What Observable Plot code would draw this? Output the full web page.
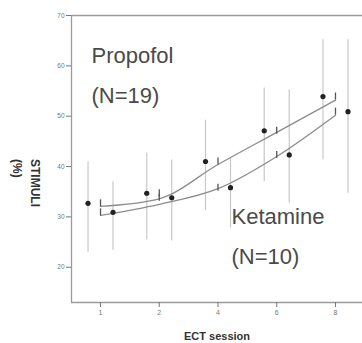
<!DOCTYPE html>
<html>
<head>
<meta charset="utf-8">
<script src="https://cdn.jsdelivr.net/npm/d3@7"></script>
<script src="https://cdn.jsdelivr.net/npm/@observablehq/plot@0.6"></script>
<style>
  html, body { margin: 0; padding: 0; background: #fff; }
  #chart svg { display: block; }
</style>
</head>
<body>
<div id="chart"></div>
<script>
// ECT sessions (labels) and their evenly spaced positions
const sessionLabels = ["1", "2", "4", "6", "8"];
const sessionPos = [1, 2, 3, 4, 5];
const yTicks = [20, 30, 40, 50, 60, 70];

// Propofol (N=19): mean, error-bar low/high, fitted curve
const propMean = [32.7, 34.7, 41.0, 47.1, 53.9];
const propLow  = [23.0, 25.4, 31.3, 37.0, 41.3];
const propHigh = [40.9, 42.7, 49.2, 55.6, 65.2];
const propFit  = [32.1, 33.6, 40.4, 46.8, 53.2];

// Ketamine (N=10)
const ketMean = [30.9, 33.8, 35.8, 42.3, 50.9];
const ketLow  = [23.4, 25.2, 27.8, 32.7, 34.7];
const ketHigh = [37.0, 41.3, 41.7, 55.2, 65.2];
const ketFit  = [30.3, 32.5, 35.6, 42.0, 50.2];

const groups = [
  {name: "Propofol", mean: propMean, low: propLow, high: propHigh, fit: propFit, dx: -12.5},
  {name: "Ketamine", mean: ketMean, low: ketLow, high: ketHigh, fit: ketFit, dx: 12.5}
];

const rows = g => sessionPos.map((p, i) => ({x: p, mean: g.mean[i], low: g.low[i], high: g.high[i], fit: g.fit[i]}));

const xDomain = [0.506, 5.46];
const yDomain = [13, 70];
const font = "'Liberation Sans', Arial, sans-serif";

const marks = [];
for (const g of groups) {
  const d = rows(g);
  marks.push(Plot.ruleX(d, {x: "x", y1: "low", y2: "high", dx: g.dx, stroke: "#c8c8c8", strokeWidth: 1.2}));
}
for (const g of groups) {
  const d = rows(g);
  marks.push(Plot.line(d, {x: "x", y: "fit", curve: "monotone-x", stroke: "#8c8c8c", strokeWidth: 1.3}));
  marks.push(Plot.ruleX(d, {x: "x", y1: r => r.mean - 0.7, y2: r => r.mean + 0.7, stroke: "#555", strokeWidth: 1.3}));
  marks.push(Plot.dot(d, {x: "x", y: "mean", dx: g.dx, r: 2.6, fill: "#222", stroke: "none"}));
}

const chart = Plot.plot({
  width: 362,
  height: 343,
  marginTop: 15,
  marginBottom: 41,
  marginLeft: 71,
  marginRight: 0,
  style: {fontFamily: font, background: "#fff"},
  x: {domain: xDomain, axis: null},
  y: {domain: yDomain, axis: null},
  marks: [
    // frame lines
    Plot.ruleY([yDomain[1]], {stroke: "#9a9a9a", strokeWidth: 1.3}),
    Plot.ruleY([yDomain[0]], {stroke: "#9a9a9a", strokeWidth: 1.3}),
    Plot.ruleX([xDomain[0]], {stroke: "#9a9a9a", strokeWidth: 1.3}),
    Plot.axisY(yTicks, {anchor: "left", tickSize: 5, tickPadding: 2, fontSize: 6.5, color: "#777", stroke: "#777", label: null}),
    Plot.axisX(sessionPos, {anchor: "bottom", tickSize: 5, tickPadding: 3, fontSize: 7, color: "#777", stroke: "#777",
      tickFormat: (d, i) => sessionLabels[i], label: null}),
    ...marks,
    Plot.text(["Propofol\n(N=19)"], {frameAnchor: "top-left", dx: 20, dy: 19, lineAnchor: "top", textAnchor: "start",
      fontSize: 22, lineHeight: 1.82, fill: "#4a4a4a", fontFamily: font}),
    Plot.text(["Ketamine\n(N=10)"], {frameAnchor: "top-left", dx: 160, dy: 180, lineAnchor: "top", textAnchor: "start",
      fontSize: 22, lineHeight: 1.82, fill: "#4a4a4a", fontFamily: font}),
    Plot.text(["STIMULI\n(%)"], {frameAnchor: "left", dx: -44, rotate: 90, lineAnchor: "middle",
      fontSize: 12, fontWeight: "bold", lineHeight: 1.45, fill: "#333", fontFamily: font}),
    Plot.text(["ECT session"], {frameAnchor: "bottom", dy: 37, lineAnchor: "bottom", fontSize: 11, fontWeight: "bold",
      fill: "#333", fontFamily: font})
  ]
});
document.getElementById("chart").appendChild(chart);
</script>
</body>
</html>
